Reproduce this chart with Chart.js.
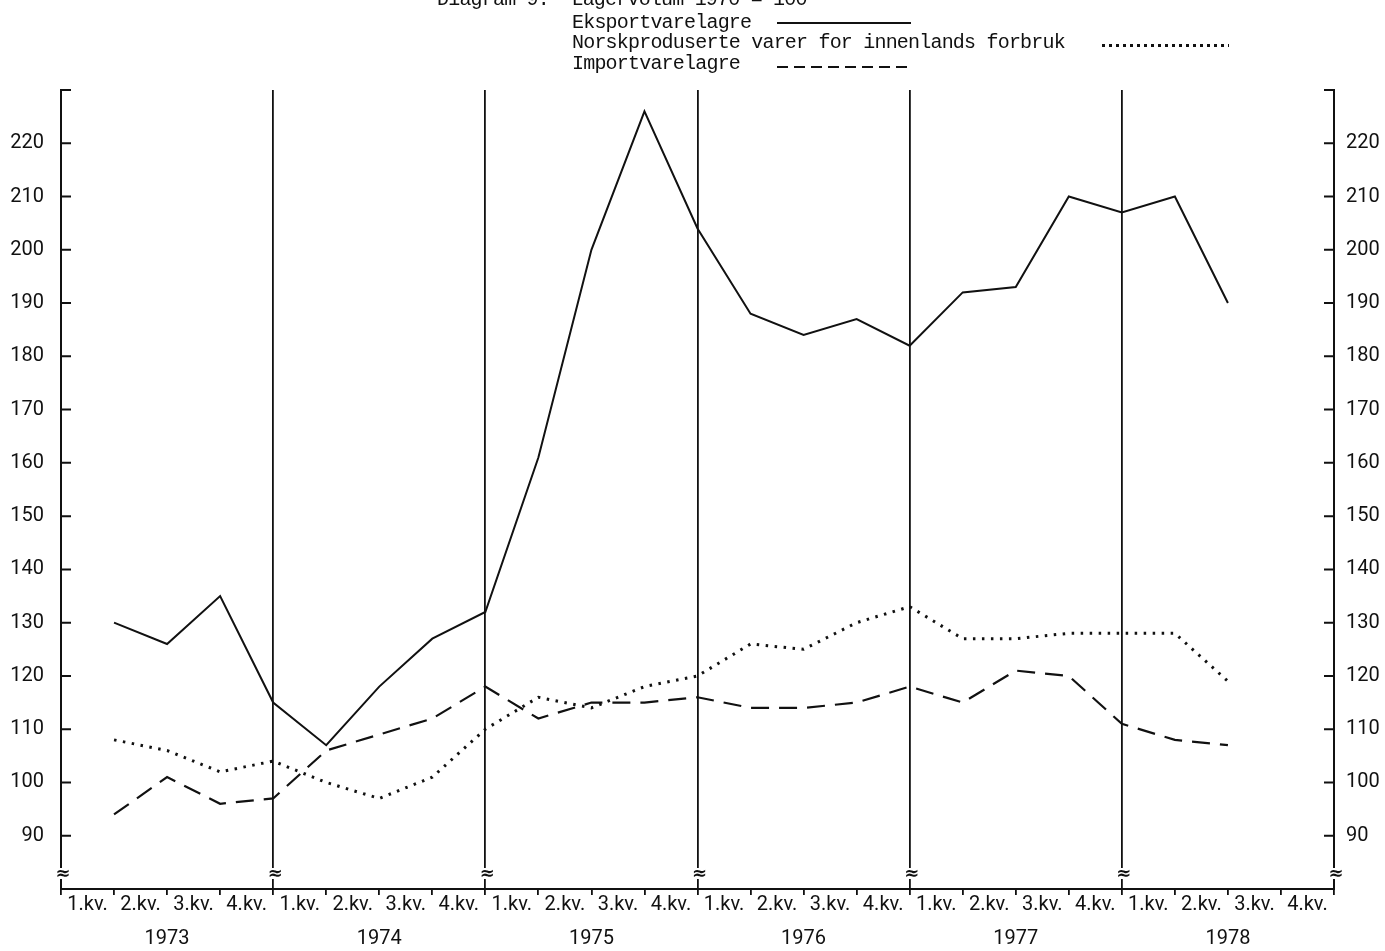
<!DOCTYPE html>
<html lang="no">
<head>
<meta charset="UTF-8">
<title>Diagram 9. Lagervolum 1970 = 100</title>
<style>
    body { margin: 0; background: #fff; }
    .wrap { position: relative; width: 1385px; height: 951px; overflow: hidden; }
    canvas { position: absolute; left: 0; top: 0; }
    .txt {
        position: absolute;
        font-family: 'Liberation Mono', 'DejaVu Sans Mono', monospace;
        font-size: 20px;
        letter-spacing: -0.8px;
        line-height: 20px;
        color: #111;
        white-space: pre;
    }
    .key { position: absolute; }
    .key.solid { height: 2px; background: #111; }
    .key.dotted { height: 3px; background: repeating-linear-gradient(to right, #111 0 3px, transparent 3px 7px); }
    .key.dashed { height: 2px; background: repeating-linear-gradient(to right, #111 0 11px, transparent 11px 17px); }
</style>
</head>
<body>
<div class="wrap">
    <canvas id="lagerChart" width="1385" height="951"></canvas>
    <div class="txt" style="left:437px; top:-10px;">Diagram 9.  Lagervolum 1970 = 100</div>
    <div class="txt" style="left:572px; top:13px;">Eksportvarelagre</div>
    <div class="key solid" style="left:777px; top:22px; width:134px;"></div>
    <div class="txt" style="left:572px; top:33px;">Norskproduserte varer for innenlands forbruk</div>
    <div class="key dotted" style="left:1102px; top:44px; width:127px;"></div>
    <div class="txt" style="left:572px; top:54px;">Importvarelagre</div>
    <div class="key dashed" style="left:777px; top:66px; width:134px;"></div>
</div>
<script src="https://cdn.jsdelivr.net/npm/chart.js"></script>
<script>
    // quarters 1973 1.kv. .. 1978 2.kv.
    const years = ['1973', '1974', '1975', '1976', '1977', '1978'];
    const quarterNames = ['1.kv.', '2.kv.', '3.kv.', '4.kv.'];
    const eksport = [130, 126, 135, 115, 107, 118, 127, 132, 161, 200, 226, 204,
                     188, 184, 187, 182, 192, 193, 210, 207, 210, 190];
    const norsk = [108, 106, 102, 104, 100, 97, 101, 110, 116, 114, 118, 120,
                   126, 125, 130, 133, 127, 127, 128, 128, 128, 119];
    const importv = [94, 101, 96, 97, 106, 109, 112, 118, 112, 115, 115, 116,
                     114, 114, 115, 118, 115, 121, 120, 111, 108, 107];
    const yTicks = [90, 100, 110, 120, 130, 140, 150, 160, 170, 180, 190, 200, 210, 220];
    const yTop = 230;
    const yBottom = 80;

    const nQuarters = years.length * 4;
    const ink = '#111';

    // each value sits at the end of its quarter
    function toPoints(arr) {
        return arr.map((v, i) => ({ x: i + 1, y: v }));
    }

    // inward tick marks on both value axes + break marks on the vertical lines
    const axisMarks = {
        id: 'axisMarks',
        afterDraw(chart) {
            const { ctx, chartArea: a, scales } = chart;
            ctx.save();
            ctx.strokeStyle = ink;
            ctx.lineWidth = 2;
            yTicks.concat([yTop]).forEach(v => {
                const y = scales.y.getPixelForValue(v);
                ctx.beginPath();
                ctx.moveTo(a.left, y);
                ctx.lineTo(a.left + 10, y);
                ctx.moveTo(a.right, y);
                ctx.lineTo(a.right - 10, y);
                ctx.stroke();
            });
            for (let q = 0; q <= nQuarters; q += 4) {
                const x = scales.x.getPixelForValue(q);
                const y = a.bottom - 15;
                ctx.fillStyle = '#fff';
                ctx.fillRect(x - 2, y - 6, 4, 11);
                ctx.fillStyle = ink;
                ctx.font = 'bold 18px "DejaVu Sans"';
                ctx.textAlign = 'center';
                ctx.textBaseline = 'middle';
                ctx.fillText('\u2248', x + 2, y);
            }
            ctx.restore();
        }
    };

    const tickFont = { family: 'Roboto, "Liberation Sans", sans-serif', size: 20 };
    const labelFont = { family: 'Roboto, "Liberation Sans", sans-serif', size: 20 };

    const ctx = document.getElementById('lagerChart').getContext('2d');
    new Chart(ctx, {
        type: 'line',
        data: {
            datasets: [
                {
                    label: 'Eksportvarelagre',
                    data: toPoints(eksport),
                    borderColor: ink,
                    borderWidth: 2,
                    pointRadius: 0,
                    tension: 0
                },
                {
                    label: 'Norskproduserte varer for innenlands forbruk',
                    data: toPoints(norsk),
                    borderColor: ink,
                    borderWidth: 3,
                    borderDash: [2.5, 6.5],
                    pointRadius: 0,
                    tension: 0
                },
                {
                    label: 'Importvarelagre',
                    data: toPoints(importv),
                    borderColor: ink,
                    borderWidth: 2.2,
                    borderDash: [18, 10],
                    pointRadius: 0,
                    tension: 0
                }
            ]
        },
        options: {
            responsive: false,
            animation: false,
            layout: { padding: { top: 90, left: 0, right: 0, bottom: 0 } },
            plugins: {
                legend: { display: false },
                tooltip: { enabled: false }
            },
            scales: {
                x: {
                    type: 'linear',
                    position: 'bottom',
                    weight: 1,
                    min: 0,
                    max: nQuarters,
                    afterBuildTicks: s => {
                        s.ticks = Array.from({ length: nQuarters + 1 }, (_, i) => ({ value: i }));
                    },
                    afterFit: s => { s.height = 6; },
                    ticks: { display: false },
                    grid: {
                        color: c => (c.tick && c.tick.value % 4 === 0) ? ink : 'rgba(0,0,0,0)',
                        lineWidth: 1.8,
                        tickColor: ink,
                        tickWidth: 1.8,
                        tickLength: 6
                    },
                    border: { display: true, color: ink, width: 2 }
                },
                xq: {
                    type: 'linear',
                    position: 'bottom',
                    weight: 2,
                    min: 0,
                    max: nQuarters,
                    afterBuildTicks: s => {
                        s.ticks = Array.from({ length: nQuarters }, (_, i) => ({ value: i + 0.5 }));
                    },
                    afterFit: s => { s.height = 24; },
                    ticks: {
                        autoSkip: false,
                        maxRotation: 0,
                        padding: -10,
                        color: ink,
                        font: labelFont,
                        callback: v => quarterNames[Math.floor(v) % 4]
                    },
                    grid: { display: false },
                    border: { display: false }
                },
                xy: {
                    type: 'linear',
                    position: 'bottom',
                    weight: 3,
                    min: 0,
                    max: nQuarters,
                    afterBuildTicks: s => {
                        s.ticks = years.map((_, i) => ({ value: i * 4 + 2 }));
                    },
                    afterFit: s => { s.height = 32; },
                    ticks: {
                        autoSkip: false,
                        maxRotation: 0,
                        padding: 0,
                        color: ink,
                        font: labelFont,
                        callback: v => years[Math.floor(v / 4)]
                    },
                    grid: { display: false },
                    border: { display: false }
                },
                y: {
                    position: 'left',
                    min: yBottom,
                    max: yTop,
                    afterBuildTicks: s => { s.ticks = yTicks.map(v => ({ value: v })); },
                    afterFit: s => { s.width = 61; },
                    ticks: { padding: 17, color: ink, font: tickFont },
                    grid: { display: false, drawTicks: false },
                    border: { display: true, color: ink, width: 2 }
                },
                y2: {
                    position: 'right',
                    min: yBottom,
                    max: yTop,
                    afterBuildTicks: s => { s.ticks = yTicks.map(v => ({ value: v })); },
                    afterFit: s => { s.width = 51; },
                    ticks: { padding: 12, color: ink, font: tickFont },
                    grid: { display: false, drawTicks: false },
                    border: { display: true, color: ink, width: 2 }
                }
            }
        },
        plugins: [axisMarks]
    });
</script>
</body>
</html>
